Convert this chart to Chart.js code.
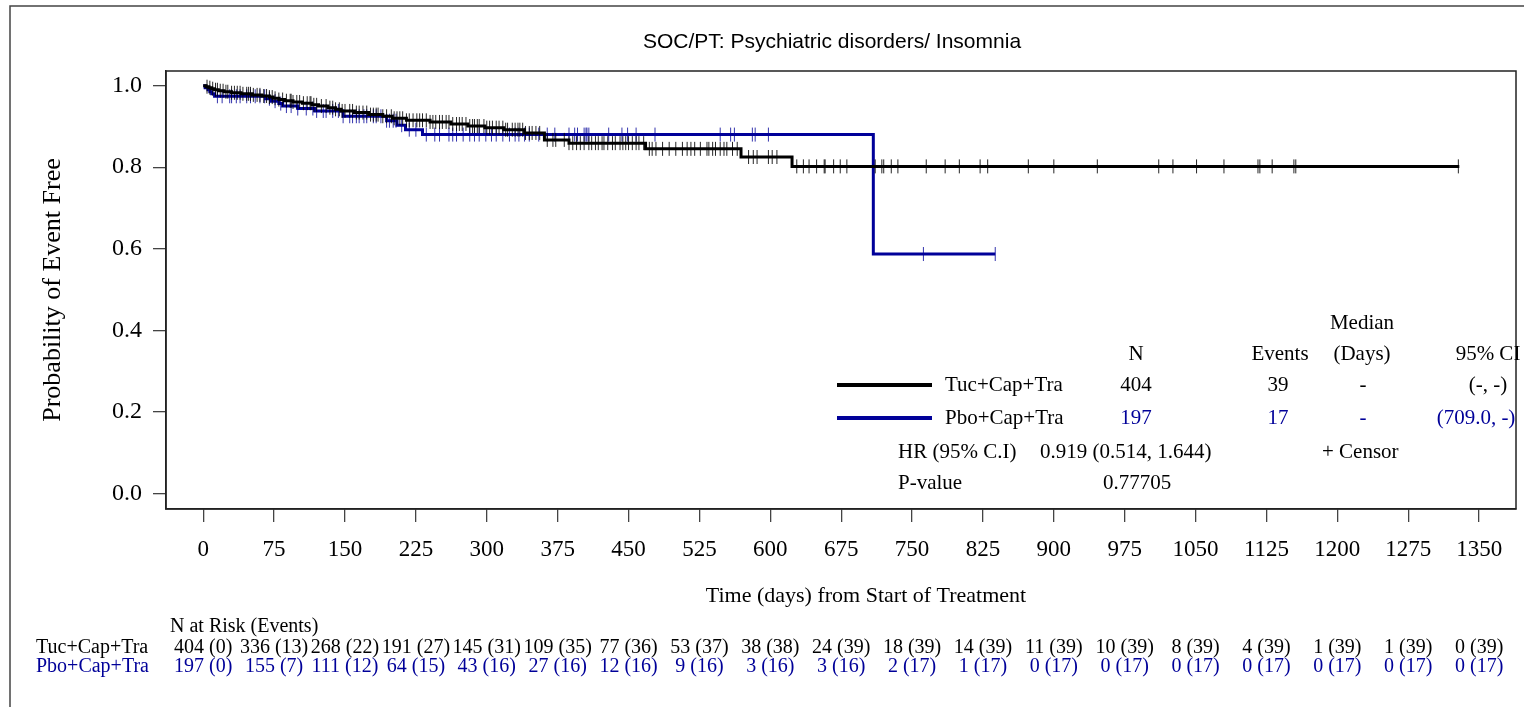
<!DOCTYPE html>
<html>
<head>
<meta charset="utf-8">
<script src="https://cdn.jsdelivr.net/npm/chart.js@4.4.1/dist/chart.umd.min.js"></script>
<style>
  body { margin: 0; background: #fff; overflow: hidden; }
  canvas { display: block; }
</style>
</head>
<body>
<canvas id="km" width="1524" height="707"></canvas>
<script>
// axis ticks
var xTicks = [0, 75, 150, 225, 300, 375, 450, 525, 600, 675, 750, 825, 900, 975, 1050, 1125, 1200, 1275, 1350];
var yTicks = [0, 0.2, 0.4, 0.6, 0.8, 1.0];

// Tuc+Cap+Tra step curve (day, survival)
var tucTimes = [0, 3, 6, 9, 12, 16, 22, 30, 40, 52, 62, 70, 74, 80, 86, 95, 105, 115, 122, 132, 140, 146,
  160, 175, 190, 200, 215, 240, 262, 280, 298, 318, 340, 361, 387, 468, 569, 623, 1329];
var tucSurv = [1.0, 0.9975, 0.995, 0.9926, 0.990, 0.9876, 0.9851, 0.9826, 0.980, 0.9774, 0.9747, 0.972, 0.969,
  0.966, 0.963, 0.960, 0.957, 0.953, 0.950, 0.946, 0.942, 0.938,
  0.934, 0.929, 0.925, 0.920, 0.915, 0.911, 0.906, 0.901, 0.897, 0.892, 0.884, 0.867, 0.859, 0.845, 0.825, 0.802, 0.802];

// Pbo+Cap+Tra step curve (day, survival)
var pboTimes = [0, 2, 5, 7, 9, 12, 66, 72, 80, 84, 100, 118, 148, 194, 205, 214, 232, 709, 838];
var pboSurv = [1.0, 0.995, 0.990, 0.985, 0.980, 0.974, 0.968, 0.962, 0.956, 0.950, 0.944, 0.938, 0.925,
  0.914, 0.903, 0.892, 0.880, 0.587, 0.587];

// censored days
var tucCensor = [4, 7, 10, 13, 15, 18, 21, 24, 26, 30, 33, 36, 39, 42, 46, 48, 50, 53, 57, 60, 64, 67, 70, 73, 76,
  80, 84, 88, 92, 93, 95, 99, 102, 106, 110, 113, 114, 117, 120, 125, 130, 134, 137, 140, 144, 147, 150, 155, 158,
  162, 165, 169, 173, 177, 180, 183, 185, 190, 194, 199, 202, 205, 208, 211, 215, 218, 222, 226, 229, 232, 236,
  240, 243, 246, 250, 253, 257, 260, 264, 268, 271, 274, 278, 282, 285, 287, 290, 292, 297, 300, 303, 306, 310,
  313, 317, 320, 322, 327, 330, 333, 335, 338, 341, 345, 348, 352, 356, 364, 370, 373, 382, 387, 391, 395, 399,
  403, 408, 411, 415, 418, 422, 424, 428, 433, 436, 441, 444, 447, 450, 454, 458, 461, 466, 472, 475, 479, 486,
  493, 500, 507, 512, 516, 520, 526, 533, 535, 539, 542, 547, 551, 554, 560, 565, 577, 582, 586, 598, 602, 607,
  628, 635, 641, 649, 657, 658, 667, 674, 681, 711, 718, 720, 728, 735, 765, 785, 800, 822, 830, 873, 900, 946,
  1011, 1026, 1051, 1080, 1116, 1118, 1131, 1154, 1156, 1328];
var pboCensor = [15, 20, 28, 30, 35, 39, 46, 50, 55, 60, 65, 70, 76, 82, 88, 93, 100, 109, 116, 120, 127, 130,
  137, 143, 148, 155, 158, 162, 165, 170, 173, 180, 183, 188, 194, 197, 201, 204, 210, 218, 225, 236, 245, 250,
  260, 264, 268, 275, 282, 287, 292, 299, 305, 310, 317, 324, 330, 334, 340, 345, 355, 364, 372, 387, 393, 396,
  403, 405, 406, 408, 429, 443, 449, 458, 478, 547, 558, 562, 581, 584, 598, 762, 838];

// number at risk (events) at each x tick
var riskTuc = ["404 (0)", "336 (13)", "268 (22)", "191 (27)", "145 (31)", "109 (35)", "77 (36)", "53 (37)", "38 (38)",
  "24 (39)", "18 (39)", "14 (39)", "11 (39)", "10 (39)", "8 (39)", "4 (39)", "1 (39)", "1 (39)", "0 (39)"];
var riskPbo = ["197 (0)", "155 (7)", "111 (12)", "64 (15)", "43 (16)", "27 (16)", "12 (16)", "9 (16)", "3 (16)",
  "3 (16)", "2 (17)", "1 (17)", "0 (17)", "0 (17)", "0 (17)", "0 (17)", "0 (17)", "0 (17)", "0 (17)"];

// summary table
var groups = ["Tuc+Cap+Tra", "Pbo+Cap+Tra"];
var groupN = ["404", "197"];
var groupEvents = ["39", "17"];
var groupMedian = ["-", "-"];
var groupCI = ["(-, -)", "(709.0, -)"];
var hrText = "0.919 (0.514, 1.644)";
var pText = "0.77705";

var BLACK = "#000000";
var BLUE = "#000099";
var SERIF = '"Liberation Serif", "Times New Roman", serif';
var SANS = '"Liberation Sans", Arial, sans-serif';

function levelAt(times, surv, t) {
  var v = surv[0];
  for (var i = 0; i < times.length; i++) {
    if (times[i] <= t) v = surv[i];
  }
  return v;
}

function stepData(times, surv) {
  return times.map(function(t, i) { return {x: t, y: surv[i]}; });
}

function censorData(days, times, surv) {
  return days.map(function(t) { return {x: t, y: levelAt(times, surv, t)}; });
}

function txt(ctx, s, x, y, align, color, size, family) {
  ctx.font = size + "px " + (family || SERIF);
  ctx.fillStyle = color;
  ctx.textAlign = align;
  ctx.textBaseline = "middle";
  ctx.fillText(s, x, y);
}

// frame, title, summary table and risk table
var annotations = {
  id: "annotations",
  afterDraw: function(chart) {
    var ctx = chart.ctx;
    var area = chart.chartArea;
    var xs = chart.scales.x;
    ctx.save();

    // outer frame (left and top)
    ctx.strokeStyle = "#444";
    ctx.lineWidth = 1.5;
    ctx.beginPath();
    ctx.moveTo(10, 707);
    ctx.lineTo(10, 6);
    ctx.lineTo(1524, 6);
    ctx.stroke();

    // plot box
    ctx.strokeStyle = "#222";
    ctx.lineWidth = 1.5;
    ctx.strokeRect(area.left, area.top, area.right - area.left, area.bottom - area.top);

    txt(ctx, "SOC/PT: Psychiatric disorders/ Insomnia", 832, 42, "center", BLACK, 21, SANS);
    txt(ctx, "Time (days) from Start of Treatment", 866, 596, "center", BLACK, 22);

    // summary table
    var fs = 21;
    txt(ctx, "Median", 1362, 323, "center", BLACK, fs);
    txt(ctx, "N", 1136, 354, "center", BLACK, fs);
    txt(ctx, "Events", 1280, 354, "center", BLACK, fs);
    txt(ctx, "(Days)", 1362, 354, "center", BLACK, fs);
    txt(ctx, "95% CI", 1488, 354, "center", BLACK, fs);
    var rowY = [385, 418];
    var colors = [BLACK, BLUE];
    for (var i = 0; i < 2; i++) {
      ctx.strokeStyle = colors[i];
      ctx.lineWidth = 4;
      ctx.beginPath();
      ctx.moveTo(837, rowY[i]);
      ctx.lineTo(932, rowY[i]);
      ctx.stroke();
      txt(ctx, groups[i], 945, rowY[i], "left", BLACK, fs);
      txt(ctx, groupN[i], 1136, rowY[i], "center", colors[i], fs);
      txt(ctx, groupEvents[i], 1278, rowY[i], "center", colors[i], fs);
      txt(ctx, groupMedian[i], 1363, rowY[i], "center", colors[i], fs);
      txt(ctx, groupCI[i], i == 0 ? 1488 : 1476, rowY[i], "center", colors[i], fs);
    }
    txt(ctx, "HR (95% C.I)", 898, 452, "left", BLACK, fs);
    txt(ctx, hrText, 1040, 452, "left", BLACK, fs);
    txt(ctx, "+ Censor", 1322, 452, "left", BLACK, fs);
    txt(ctx, "P-value", 898, 483, "left", BLACK, fs);
    txt(ctx, pText, 1137, 483, "center", BLACK, fs);

    // number at risk
    var rs = 20;
    txt(ctx, "N at Risk (Events)", 170, 627, "left", BLACK, rs);
    txt(ctx, groups[0], 36, 648, "left", BLACK, rs);
    txt(ctx, groups[1], 36, 667, "left", BLUE, rs);
    for (var k = 0; k < xTicks.length; k++) {
      var px = xs.getPixelForValue(xTicks[k]);
      txt(ctx, riskTuc[k], px, 648, "center", BLACK, rs);
      txt(ctx, riskPbo[k], px, 667, "center", BLUE, rs);
    }
    ctx.restore();
  }
};

var ctx = document.getElementById("km").getContext("2d");
var chart = new Chart(ctx, {
  type: "line",
  data: {
    datasets: [
      {
        label: groups[0],
        data: stepData(tucTimes, tucSurv),
        stepped: "before",
        borderColor: BLACK,
        borderWidth: 3,
        pointRadius: 0,
        fill: false
      },
      {
        label: "censor tuc",
        data: censorData(tucCensor, tucTimes, tucSurv),
        showLine: false,
        pointStyle: "line",
        rotation: 90,
        pointRadius: 7,
        borderWidth: 1,
        borderColor: "rgba(0,0,0,0.85)"
      },
      {
        label: groups[1],
        data: stepData(pboTimes, pboSurv),
        stepped: "before",
        borderColor: BLUE,
        borderWidth: 3,
        pointRadius: 0,
        fill: false
      },
      {
        label: "censor pbo",
        data: censorData(pboCensor, pboTimes, pboSurv),
        showLine: false,
        pointStyle: "line",
        rotation: 90,
        pointRadius: 7,
        borderWidth: 1,
        borderColor: "rgba(0,0,153,0.8)"
      }
    ]
  },
  options: {
    responsive: false,
    animation: false,
    events: [],
    layout: { padding: { left: 0, top: 71, right: 0, bottom: 0 } },
    plugins: {
      legend: { display: false },
      tooltip: { enabled: false }
    },
    scales: {
      x: {
        type: "linear",
        min: -39.4,
        max: 1389,
        afterBuildTicks: function(scale) {
          scale.ticks = xTicks.map(function(v) { return {value: v}; });
        },
        afterFit: function(scale) { scale.height = 198; },
        ticks: {
          autoSkip: false,
          maxRotation: 0,
          padding: 14,
          color: BLACK,
          font: { family: SERIF, size: 23 },
          callback: function(v) { return String(v); }
        },
        grid: { drawOnChartArea: false, tickLength: 13, color: "#444", lineWidth: 1.3 },
        border: { display: true, color: "#222", width: 1.5 }
      },
      y: {
        min: -0.0385,
        max: 1.036,
        afterBuildTicks: function(scale) {
          scale.ticks = yTicks.map(function(v) { return {value: v}; });
        },
        afterFit: function(scale) { scale.width = 166; },
        ticks: {
          padding: 11,
          color: BLACK,
          font: { family: SERIF, size: 24 },
          callback: function(v) { return v.toFixed(1); }
        },
        title: {
          display: true,
          text: "Probability of Event Free",
          color: BLACK,
          font: { family: SERIF, size: 26 },
          padding: { top: 38, bottom: 0 }
        },
        grid: { drawOnChartArea: false, tickLength: 13, color: "#444", lineWidth: 1.3 },
        border: { display: true, color: "#222", width: 1.5 }
      }
    }
  },
  plugins: [annotations]
});
</script>
</body>
</html>
